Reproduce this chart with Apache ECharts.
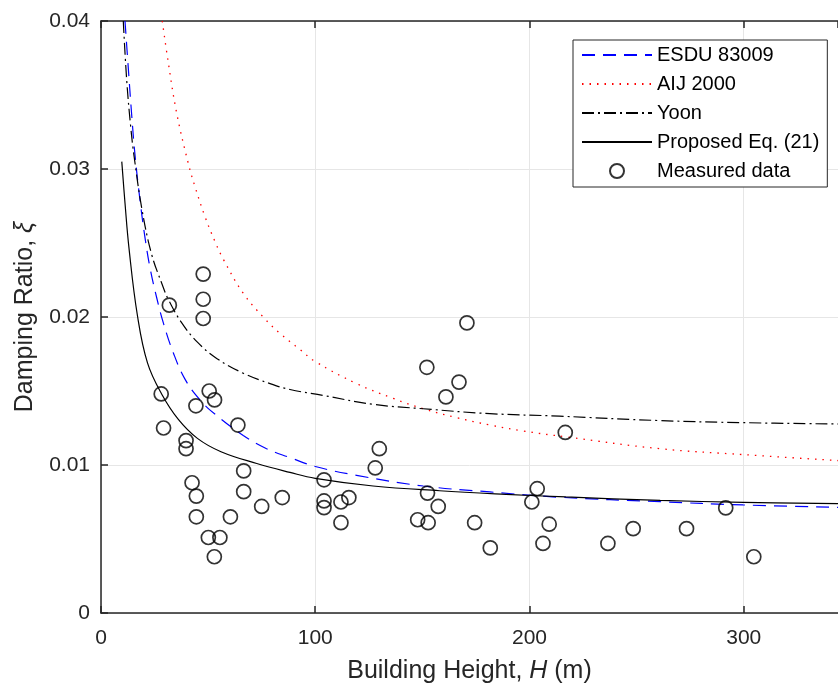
<!DOCTYPE html>
<html>
<head>
<meta charset="utf-8">
<script src="https://cdn.jsdelivr.net/npm/echarts@6/dist/echarts.min.js"></script>
<style>html,body{margin:0;padding:0;background:#fff;}#c{width:838px;height:686px;}</style>
</head>
<body>
<div id="c"></div>
<script>
// Measured data
var measuredH = [47.7,47.7,47.7,31.9,28.1,50.5,53.0,44.3,63.9,29.2,39.7,39.7,66.6,42.5,44.5,66.6,84.6,75.0,44.5,60.4,50.1,55.5,52.9,104.1,104.1,104.1,112.0,115.7,112.0,128.0,129.9,
  170.8,152.1,167.1,161.0,216.7,152.4,157.4,147.8,152.7,174.4,181.7,203.6,201.1,209.2,206.3,236.6,248.4,273.3,291.6,304.7];
var measuredXi = [0.0229,0.0212,0.0199,0.0208,0.0148,0.0150,0.0144,0.0140,0.0127,0.0125,0.01165,0.0111,0.0096,0.0088,0.0079,0.0082,0.0078,0.0072,0.0065,0.0065,0.0051,0.0051,0.0038,0.0090,0.00757,0.00712,0.0075,0.0078,0.0061,0.0098,0.0111,
  0.0196,0.0166,0.0156,0.0146,0.0122,0.0081,0.0072,0.0063,0.0061,0.0061,0.0044,0.0084,0.0075,0.0060,0.0047,0.0047,0.0057,0.0057,0.0071,0.0038];

// ESDU 83009 curve
var esduH = [11.2,12.75,14.3,15.9,18.2,20.5,22.9,26,29.1,33.7,39.2,46.2,53.5,66.4,77.3,88.2,100,119.3,150.4,181.5,214.2,260.9,299.7,344];
var esduXi = [0.0400,0.0368,0.0337,0.0309,0.0279,0.0254,0.0233,0.0213,0.0196,0.0176,0.0158,0.0144,0.0134,0.0120,0.0111,0.0105,0.0099,0.0093,0.00858,0.00818,0.00782,0.00752,0.0073,0.00714];

// AIJ 2000 curve
var aijH = [28.6,31.4,35.3,40.7,43.9,48.5,53.2,57.1,66.4,75.7,83.5,92.9,99.9,119.3,136.4,150.4,166,181.5,197,217,261,300,344];
var aijXi = [0.0400,0.0372,0.0338,0.0304,0.0288,0.0268,0.0251,0.0239,0.0216,0.0200,0.0189,0.0178,0.0170,0.0155,0.0145,0.0138,0.0132,0.0127,0.0123,0.0119,0.0111,0.0107,0.0103];

// Yoon curve
var yoonH = [10.4,12.0,13.9,15.5,19.2,23.7,28.3,31.4,37.7,45,54,66.4,78.9,88.2,103.7,127,150.4,181.5,214,261,300,344];
var yoonXi = [0.0400,0.0360,0.0328,0.0308,0.0272,0.0242,0.0223,0.0212,0.0196,0.0183,0.0172,0.0162,0.0155,0.0151,0.0147,0.0141,0.0138,0.01347,0.0133,0.0130,0.01286,0.01277];

// Proposed Eq. (21) curve
var propH = [9.7,11.2,13.1,17,21.7,28.3,36,45,56,72.7,88.2,100,127,158,189,217,261,300,344];
var propXi = [0.0305,0.0277,0.0246,0.0201,0.0169,0.0148,0.0131,0.0118,0.0109,0.0101,0.0095,0.0091,0.00858,0.00826,0.00802,0.00784,0.00761,0.00748,0.00739];

var xTicks = [0,100,200,300];
var yTicks = [0,0.01,0.02,0.03,0.04];

function zip(a,b){ return a.map(function(v,i){ return [v,b[i]]; }); }

var FONT = 'Liberation Sans';
var AX = '#262626';

var chart = echarts.init(document.getElementById('c'), null, {renderer:'canvas'});
chart.setOption({
  backgroundColor:'#fff',
  animation:false,
  textStyle:{fontFamily:FONT},
  grid:{left:101, top:21, right:0, bottom:73, containLabel:false, outerBoundsMode:'none'},
  legend:{
    orient:'vertical', left:573, top:40,
    backgroundColor:'#fff', borderColor:AX, borderWidth:1,
    padding:[4,8,5,8], itemWidth:70, itemHeight:14, itemGap:7,
    textStyle:{fontFamily:FONT, fontSize:20, color:'#000', lineHeight:22},
    data:[
      {name:'ESDU 83009', itemStyle:{opacity:0}},
      {name:'AIJ 2000', itemStyle:{opacity:0}},
      {name:'Yoon', itemStyle:{opacity:0}},
      {name:'Proposed Eq. (21)', itemStyle:{opacity:0}},
      {name:'Measured data'}
    ]
  },
  xAxis:[{
    type:'value', min:xTicks[0], max:344, interval:100,
    name:'Building Height, {i|H} (m)', nameLocation:'middle', nameGap:46,
    nameTextStyle:{fontFamily:FONT, fontSize:25, color:AX, rich:{i:{fontFamily:FONT, fontSize:25, fontStyle:'italic', color:AX}}},
    axisLine:{show:true, onZero:false, lineStyle:{color:AX, width:1.5}},
    axisTick:{show:true, inside:true, length:7, lineStyle:{color:AX, width:1.5}},
    axisLabel:{show:true, fontFamily:FONT, fontSize:21, color:AX, margin:15, showMaxLabel:false,
      formatter:function(v){ return xTicks.indexOf(v)>=0 ? String(v) : ''; }},
    splitLine:{show:true, lineStyle:{color:'#e6e6e6', width:1}}
  },{
    type:'value', position:'top', min:xTicks[0], max:344, interval:100,
    axisLine:{show:true, onZero:false, lineStyle:{color:AX, width:1.5}},
    axisTick:{show:true, inside:true, length:7, lineStyle:{color:AX, width:1.5}},
    axisLabel:{show:false}, splitLine:{show:false}
  }],
  yAxis:[{
    type:'value', min:yTicks[0], max:yTicks[yTicks.length-1], interval:0.01,
    name:'Damping Ratio, {i|ξ}', nameLocation:'middle', nameGap:63, nameRotate:90,
    nameTextStyle:{fontFamily:FONT, fontSize:25, color:AX, rich:{i:{fontFamily:FONT, fontSize:25, fontStyle:'italic', color:AX}}},
    axisLine:{show:true, onZero:false, lineStyle:{color:AX, width:1.5}},
    axisTick:{show:true, inside:true, length:7, lineStyle:{color:AX, width:1.5}},
    axisLabel:{show:true, fontFamily:FONT, fontSize:21, color:AX, margin:11,
      formatter:function(v){ return v===0 ? '0' : (+v.toFixed(2)).toString(); }},
    splitLine:{show:true, lineStyle:{color:'#e6e6e6', width:1}}
  }],
  series:[
    {name:'ESDU 83009', type:'line', data:zip(esduH, esduXi), symbol:'none', smooth:0.4, clip:true,
      lineStyle:{color:'#0000ff', width:1.2, type:[13,8]}, itemStyle:{color:'#0000ff'}, z:3},
    {name:'AIJ 2000', type:'line', data:zip(aijH, aijXi), symbol:'none', smooth:0.4, clip:true,
      lineStyle:{color:'#ff0000', width:1.3, type:[1.5,6]}, itemStyle:{color:'#ff0000'}, z:3},
    {name:'Yoon', type:'line', data:zip(yoonH, yoonXi), symbol:'none', smooth:0.4, clip:true,
      lineStyle:{color:'#000', width:1.2, type:[12,4,2,4]}, itemStyle:{color:'#000'}, z:3},
    {name:'Proposed Eq. (21)', type:'line', data:zip(propH, propXi), symbol:'none', smooth:0.4, clip:true,
      lineStyle:{color:'#000', width:1.2, type:'solid'}, itemStyle:{color:'#000'}, z:3},
    {name:'Measured data', type:'scatter', data:zip(measuredH, measuredXi), symbol:'circle', symbolSize:14,
      itemStyle:{color:'rgba(255,255,255,0)', borderColor:'#000', borderWidth:1.7}, z:4}
  ]
});
</script>
</body>
</html>
